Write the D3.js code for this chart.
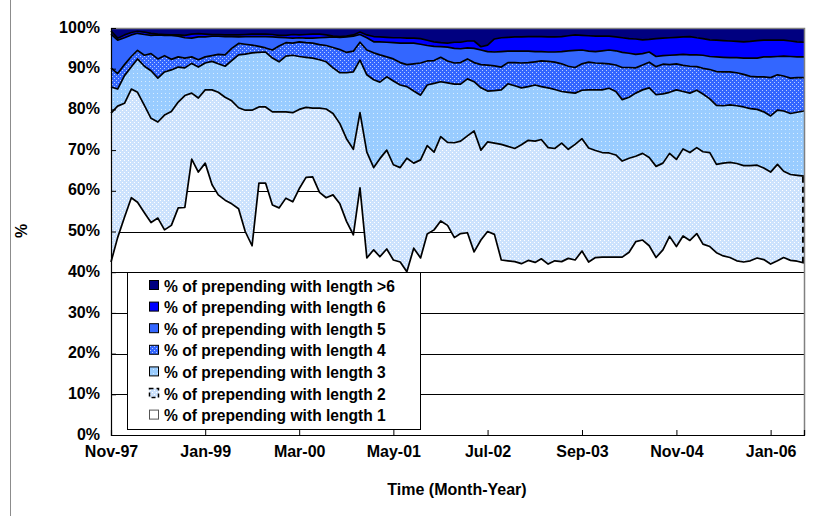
<!DOCTYPE html>
<html>
<head>
<meta charset="utf-8">
<script src="https://cdn.jsdelivr.net/npm/d3@7"></script>
<style>
  body { margin: 0; background: #fff; }
  svg { display: block; }
  text { font-family: "Liberation Sans", Arial, sans-serif; font-weight: bold; fill: #000; }
</style>
</head>
<body>
<svg id="chart" width="833" height="523"></svg>
<script>
// Monthly share (%) of AS-path prepending by prepend length, Nov-97 .. Jun-06
const len1 = [42.5,48.5,53.5,58.3,57.2,54.6,52.2,53.3,50.4,51.5, 55.8,55.9,67.8,64.6,66.8,61.5,59.0,57.7,56.8,55.6,
  50.0,46.5,61.9,61.9,56.5,55.8,58.2,57.3,60.5,63.3, 63.4,59.6,58.3,59.0,56.8,52.5,49.2,60.7,43.5,45.5,
  43.8,45.7,43.0,42.5,40.1,45.9,43.5,49.4,50.4,52.6, 51.5,48.5,49.5,49.7,45.0,47.9,50.0,49.3,43.0,42.8,
  42.6,42.1,42.9,42.4,43.3,42.0,42.8,42.6,43.4,43.0, 45.2,42.5,43.6,43.7,43.7,43.7,43.7,44.9,47.5,47.9,
  46.5,43.6,45.5,48.8,46.3,48.9,47.8,49.5,46.9,46.3, 44.8,44.0,43.6,42.8,42.5,42.8,43.5,43.1,42.0,42.8,
  43.6,42.9,42.7,42.3];
const len2 = [36.6,32.3,28.0,26.7,27.0,26.4,25.6,23.6,28.2,28.0, 26.0,27.5,16.2,18.2,18.0,23.3,25.2,25.3,25.3,24.8,
  29.8,33.3,18.7,18.7,22.9,23.6,21.2,21.9,19.5,17.2, 16.9,20.7,21.8,20.0,19.7,20.3,21.0,18.5,26.0,20.2,
  24.1,24.3,23.4,23.2,27.9,20.9,24.1,21.7,19.1,20.7, 20.4,23.3,22.7,23.8,29.7,22.1,22.0,22.4,28.4,28.1,
  27.8,29.2,29.5,29.8,29.3,28.6,27.6,29.1,26.8,28.4, 27.6,28.0,26.3,25.7,25.6,25.1,23.6,23.1,21.0,21.3,
  21.7,22.4,21.3,20.4,21.4,21.4,21.6,21.1,22.7,23.1, 21.7,22.8,23.4,23.9,23.7,23.4,22.8,22.5,22.6,23.7,
  21.2,21.1,21.1,21.3];
const len3 = [6.4,4.2,6.8,5.5,8.2,9.6,11.7,10.8,10.6,10.2, 8.6,6.8,7.3,7.6,6.6,7.0,7.0,7.6,9.9,13.0,
  13.8,14.1,13.4,13.5,13.2,12.3,13.7,14.1,13.0,12.3, 12.3,11.9,11.6,11.2,12.5,16.2,19.0,12.9,19.0,21.6,
  18.8,18.0,20.6,20.3,17.6,17.7,15.9,14.9,16.9,13.5, 14.6,14.4,14.0,14.0,12.1,15.3,12.5,12.9,13.4,15.4,
  15.4,14.0,13.2,13.8,13.0,14.7,14.5,12.7,14.0,12.6, 11.9,14.3,14.9,15.4,15.9,15.6,15.1,15.0,15.5,15.6,
  17.1,17.6,17.0,15.0,17.1,14.1,14.6,14.1,14.2,13.2, 14.5,14.1,14.1,14.2,14.4,14.0,13.7,13.8,13.8,13.3,
  14.8,15.0,15.5,16.0];
const len4 = [4.7,3.8,2.7,2.5,2.1,2.7,4.2,4.7,4.0,2.6, 2.5,2.4,1.6,1.8,1.5,1.4,2.3,2.8,3.0,2.8,
  2.4,1.9,1.5,1.0,2.0,3.9,3.3,3.0,3.6,3.6, 3.7,3.7,4.0,5.0,5.7,5.0,5.1,4.4,6.1,6.6,
  6.7,4.9,5.4,5.5,5.4,6.7,7.9,5.9,5.6,6.0, 5.4,5.2,5.3,4.9,4.7,5.7,6.4,6.1,5.6,5.2,
  5.7,6.1,5.9,5.7,6.3,6.5,6.7,6.8,6.4,6.3, 6.5,6.8,6.6,6.5,6.0,6.5,7.9,7.3,6.2,6.1,
  6.3,6.9,7.3,6.8,6.4,6.4,6.6,5.8,6.3,7.2, 8.3,8.3,8.1,8.1,8.0,7.9,8.0,8.6,9.4,8.7,
  8.6,8.7,8.5,8.2];
const len5 = [8.3,8.2,6.6,5.3,4.2,5.1,4.5,5.9,5.0,5.9, 5.1,5.0,4.6,5.6,4.9,4.8,4.5,4.5,2.9,1.6,
  1.9,2.1,2.4,2.8,3.2,2.1,1.2,1.2,1.0,1.1, 1.2,1.7,2.0,2.6,3.0,3.8,3.7,1.9,3.0,2.7,
  3.2,3.6,4.0,4.8,5.3,5.1,4.6,3.8,3.5,2.6, 3.4,3.6,3.4,2.7,3.5,3.6,3.3,3.4,3.8,2.8,
  2.8,2.9,2.8,2.5,2.3,2.3,2.5,3.0,3.8,4.2, 3.4,2.7,2.8,3.1,3.4,3.5,3.7,3.5,3.3,2.8,
  2.5,2.5,2.1,2.3,2.2,2.7,2.8,2.9,3.2,3.2, 3.6,3.6,3.5,3.7,4.0,4.5,4.6,4.9,5.1,4.5,
  4.9,5.3,5.1,5.1];
const len6 = [0.8,0.5,0.7,0.6,0.5,0.6,0.5,0.2,0.2,0.1, 0.3,0.6,1.0,0.8,0.7,0.4,0.4,0.4,0.4,0.5,
  0.5,0.6,0.6,0.6,0.6,0.5,0.6,0.9,0.7,0.9, 1.0,0.9,0.6,0.2,0.2,0.2,0.3,0.6,0.7,1.3,
  1.2,1.2,1.2,1.3,1.2,1.2,1.4,1.3,1.1,1.0, 1.0,1.5,1.6,1.7,1.8,0.8,1.6,3.2,3.4,3.4,
  3.5,3.5,3.6,3.7,3.7,3.7,3.7,3.7,3.7,3.8, 3.6,3.8,3.8,3.6,3.4,3.4,3.6,3.6,3.8,3.4,
  3.1,4.4,4.3,4.3,4.3,4.3,4.5,4.2,4.1,4.1, 4.1,4.1,4.1,4.0,4.0,4.1,4.3,4.1,4.1,4.0,
  3.9,3.8,3.7,3.6];
const lenOver6 = [0.7,2.5,1.7,1.1,0.8,1.0,1.3,1.5,1.6,1.7, 1.7,1.8,1.5,1.4,1.5,1.6,1.6,1.7,1.7,1.7,
  1.6,1.5,1.5,1.5,1.6,1.8,1.8,1.6,1.7,1.6, 1.5,1.5,1.7,2.0,2.1,2.0,1.7,1.0,1.7,2.1,
  2.2,2.3,2.4,2.4,2.5,2.5,2.6,3.0,3.4,3.6, 3.7,3.5,3.5,3.2,3.2,4.6,4.2,2.7,2.4,2.3,
  2.2,2.2,2.1,2.1,2.1,2.2,2.2,2.1,1.9,1.7, 1.8,1.9,2.0,2.0,2.0,2.2,2.4,2.6,2.7,2.9,
  2.8,2.6,2.5,2.4,2.3,2.2,2.1,2.4,2.6,2.9, 3.0,3.1,3.2,3.3,3.4,3.3,3.1,3.0,3.0,3.0,
  3.0,3.2,3.4,3.5];

const seriesNames = [
  "% of prepending with length 1",
  "% of prepending with length 2",
  "% of prepending with length 3",
  "% of prepending with length 4",
  "% of prepending with length 5",
  "% of prepending with length 6",
  "% of prepending with length >6"
];
const xTickLabels = ["Nov-97", "Jan-99", "Mar-00", "May-01", "Jul-02", "Sep-03", "Nov-04", "Jan-06"];
const yTickValues = [0, 10, 20, 30, 40, 50, 60, 70, 80, 90, 100];
const firstMonth = "Nov-97", lastMonth = "Jun-06";

const parseMonth = d3.timeParse("%b-%y");
const months = d3.timeMonth.range(parseMonth(firstMonth), d3.timeMonth.offset(parseMonth(lastMonth), 1));

const seriesValues = [len1, len2, len3, len4, len5, len6, lenOver6];
const keys = seriesValues.map((_, j) => "s" + j);
const rows = months.map((m, i) => {
  const r = { date: m };
  keys.forEach((k, j) => { r[k] = seriesValues[j][i]; });
  return r;
});
const stacked = d3.stack().keys(keys)(rows);

// plot box
const plotLeft = 111, plotRight = 804, plotTop = 28, plotBottom = 435;
const svg = d3.select("#chart");

const x = d3.scaleTime().domain([months[0], months[months.length - 1]]).range([plotLeft, plotRight]);
const y = d3.scaleLinear().domain([0, 100]).range([plotBottom, plotTop]);

// fill patterns
const defs = svg.append("defs");
function dotted(id, base, dot, pts, size) {
  const p = defs.append("pattern").attr("id", id).attr("patternUnits", "userSpaceOnUse")
    .attr("width", size).attr("height", size);
  p.append("rect").attr("width", size).attr("height", size).attr("fill", base);
  pts.forEach(([px, py]) => p.append("rect").attr("x", px).attr("y", py)
    .attr("width", 1).attr("height", 1).attr("fill", dot));
}
dotted("pat2", "#CCE2FD", "#ffffff", [[0, 0], [2, 2]], 4);
dotted("pat3", "#99CCFF", "#D6ECFF", [[1, 1]], 4);
dotted("pat4", "#3366FF", "#B8CCFF", [[0, 0], [2, 2]], 4);

const fills = ["none", "url(#pat2)", "url(#pat3)", "url(#pat4)", "#3366FF", "#0000FF", "#000080"];
const swatchFills = ["#ffffff", "url(#pat2)", "url(#pat3)", "url(#pat4)", "#3366FF", "#0000FF", "#000080"];

// chart frame line on the left
svg.append("line").attr("x1", 10.5).attr("x2", 10.5).attr("y1", 0).attr("y2", 516)
  .attr("stroke", "#8c8c8c").attr("stroke-width", 1);

// horizontal gridlines
svg.append("g").selectAll("line").data(yTickValues.filter(v => v > 0 && v < 100)).join("line")
  .attr("x1", plotLeft).attr("x2", plotRight)
  .attr("y1", d => Math.round(y(d)) + 0.5).attr("y2", d => Math.round(y(d)) + 0.5)
  .attr("stroke", "#000").attr("stroke-width", 1);

// stacked areas
const area = d3.area()
  .x(d => x(d.data.date))
  .y0(d => y(d[0]))
  .y1(d => y(d[1]));
svg.append("g").selectAll("path").data(stacked).join("path")
  .attr("d", area)
  .attr("fill", (d, i) => fills[i]);

// series borders along each upper edge
const edge = d3.line().x(d => x(d.data.date)).y(d => y(d[1]));
svg.append("g").selectAll("path").data(stacked.slice(0, 6)).join("path")
  .attr("d", edge)
  .attr("fill", "none")
  .attr("stroke", "#000")
  .attr("stroke-width", 1.7)
  .attr("stroke-linejoin", "round");

// dashed closing edge of the length-2 series
const lastPt = stacked[1][stacked[1].length - 1];
svg.append("line")
  .attr("x1", x(lastPt.data.date) - 1).attr("x2", x(lastPt.data.date) - 1)
  .attr("y1", y(lastPt[0])).attr("y2", y(lastPt[1]))
  .attr("stroke", "#000").attr("stroke-width", 2).attr("stroke-dasharray", "6,4");

// plot frame (top and right)
svg.append("path")
  .attr("d", `M${plotLeft},${plotTop + 0.5}H${plotRight + 0.5}V${plotBottom}`)
  .attr("fill", "none").attr("stroke", "#808080").attr("stroke-width", 1.5);

// legend
const lg = svg.append("g");
lg.append("rect").attr("x", 127.5).attr("y", 272.5).attr("width", 293).attr("height", 157)
  .attr("fill", "#fff").attr("stroke", "#000").attr("stroke-width", 1);
const order = d3.range(seriesNames.length).reverse();
order.forEach((si, row) => {
  const cy = 286 + row * 21.6;
  const sw = lg.append("rect").attr("x", 149.5).attr("y", cy - 5.5).attr("width", 9).attr("height", 9)
    .attr("fill", swatchFills[si]);
  if (si === 0) sw.attr("stroke", "#555").attr("stroke-width", 1);
  else if (si === 1) sw.attr("stroke", "#000").attr("stroke-width", 1.5).attr("stroke-dasharray", "4,3");
  else sw.attr("stroke", "#000").attr("stroke-width", 1);
  lg.append("text").attr("x", 164).attr("y", cy).attr("dy", "0.36em")
    .attr("font-size", 15.6).text(seriesNames[si]);
});

// axes
const axisFont = 16;
const yAxis = d3.axisLeft(y).tickValues(yTickValues).tickFormat(d => d + "%")
  .tickSize(-5).tickPadding(11);
const gy = svg.append("g").attr("transform", `translate(${plotLeft},0)`).call(yAxis);
gy.selectAll("text").attr("font-size", axisFont).attr("dy", "0.26em").style("font-weight", "bold")
  .style("font-family", '"Liberation Sans", Arial, sans-serif');

const xAxis = d3.axisBottom(x).tickValues(xTickLabels.map(parseMonth))
  .tickFormat(d3.timeFormat("%b-%y")).tickSize(-5).tickPadding(11);
const gx = svg.append("g").attr("transform", `translate(0,${plotBottom})`).call(xAxis);
gx.selectAll("text").attr("font-size", axisFont).style("font-weight", "bold")
  .style("font-family", '"Liberation Sans", Arial, sans-serif');

[gx, gy].forEach(g => {
  g.select(".domain").attr("stroke", "#000").attr("stroke-width", 1.2);
  g.selectAll(".tick line").attr("stroke", "#000");
});

// axis titles
svg.append("text").attr("x", 457).attr("y", 495).attr("text-anchor", "middle")
  .attr("font-size", axisFont).text("Time (Month-Year)");
svg.append("text").attr("transform", "translate(27,231) rotate(-90)").attr("text-anchor", "middle")
  .attr("font-size", axisFont).text("%");
</script>
</body>
</html>
